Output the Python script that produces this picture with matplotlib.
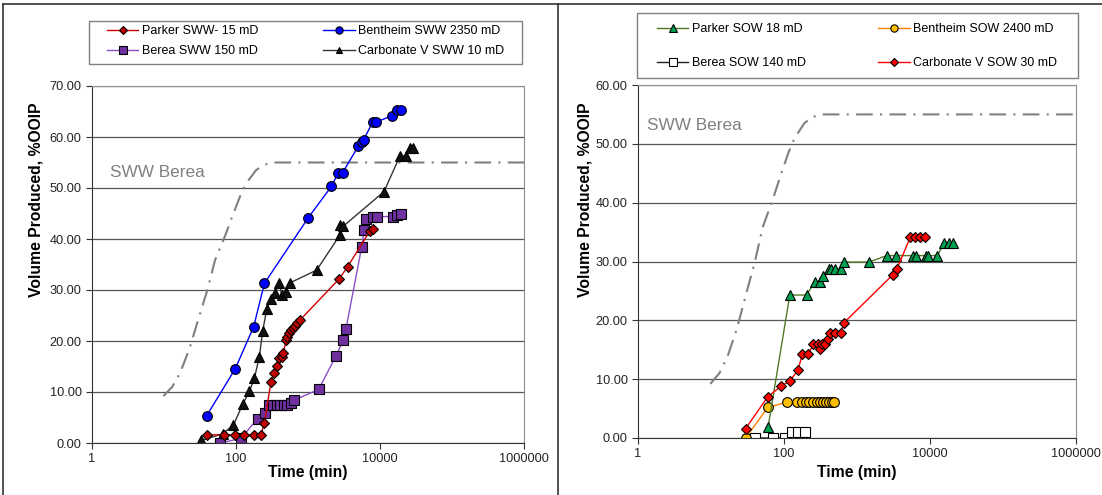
import matplotlib.pyplot as plt
from matplotlib.lines import Line2D
from matplotlib.patches import Rectangle
from matplotlib.ticker import NullLocator

plt.rcParams['font.family'] = ['Liberation Sans', 'DejaVu Sans']

# ---- left panel: SWW ----
parker_sww_t = [40, 68, 98, 128, 176, 222, 248, 306, 337, 367, 400, 431, 454, 495, 516,
                539, 575, 613, 659, 711, 774, 2720, 3560, 7260, 8070]
parker_sww_v = [1.6, 1.6, 1.6, 1.6, 1.6, 1.6, 3.9, 12.0, 13.7, 15.1, 16.7, 16.9, 17.7, 20.1, 20.8,
                21.6, 22.2, 22.5, 23.0, 23.5, 24.1, 32.2, 34.6, 41.6, 41.9]

bentheim_sww_t = [39, 98, 176, 248, 1012, 2110, 2630, 3020, 5000, 5570, 5940, 7910, 8790,
                  14800, 17400, 19400]
bentheim_sww_v = [5.3, 14.6, 22.8, 31.3, 44.2, 50.3, 53.0, 53.0, 58.2, 59.1, 59.5, 62.9, 62.9,
                  64.2, 65.2, 65.2]

berea_sww_t = [60, 117, 200, 255, 287, 323, 367, 408, 464, 516, 575, 640, 1406, 2450, 3100,
               3370, 5560, 6050, 6330, 7910, 9000, 15000, 17400, 19600]
berea_sww_v = [0.0, 0.9, 4.8, 5.8, 7.5, 7.5, 7.5, 7.5, 7.5, 7.5, 7.9, 8.4, 10.5, 17.1, 20.2,
               22.4, 38.4, 41.8, 43.9, 44.4, 44.4, 44.4, 44.8, 45.0]

carb_sww_t = [33, 65, 92, 124, 153, 180, 211, 235, 267, 303, 348, 400, 431, 495, 562, 1320,
              2780, 2780, 3090, 11370, 18950, 22960, 26100, 29000]
carb_sww_v = [0.5, 1.8, 3.5, 7.6, 10.1, 12.7, 16.9, 22.0, 26.2, 28.2, 29.5, 31.3, 29.0, 29.7,
              31.4, 33.9, 40.8, 42.7, 42.5, 49.3, 56.3, 56.3, 57.8, 57.8]

# reference curve "SWW Berea" (same on both panels)
ref_t = [9.8, 13, 16.7, 22.7, 30, 40, 51, 70, 92, 115, 140, 190, 240, 320, 1e6]
ref_v = [9.2, 11, 13.7, 18.6, 24.3, 30, 35.8, 40.5, 45, 48.5, 51, 53.5, 54.5, 55, 55]

# ---- right panel: SOW ----
parker_sow_t = [60.6, 120, 204, 262, 308, 345, 413, 436, 499, 598, 664, 1450, 2560, 3410,
                5780, 6420, 8810, 9300, 12500, 15700, 18400, 20900]
parker_sow_v = [1.9, 24.3, 24.3, 26.5, 26.5, 27.6, 28.7, 28.7, 28.7, 28.7, 29.9, 29.9, 31.0,
                31.0, 31.0, 31.0, 31.0, 31.0, 31.0, 33.1, 33.1, 33.1]

bentheim_sow_t = [29.8, 60, 111, 152, 174, 198, 222, 249, 280, 311, 346, 380, 413, 450, 490]
bentheim_sow_v = [0.0, 5.2, 6.1, 6.1, 6.1, 6.1, 6.1, 6.1, 6.1, 6.1, 6.1, 6.1, 6.1, 6.1, 6.1]

berea_sow_t = [40, 71, 102, 129, 157, 193]
berea_sow_v = [0.0, 0.0, 0.0, 1.0, 1.0, 1.0]

carb_sow_t = [29.8, 59.9, 91, 120, 155, 178, 215, 252, 292, 311, 335, 368, 400, 426, 494, 598,
              664, 3070, 3520, 5360, 6220, 7290, 8630]
carb_sow_v = [1.6, 7.0, 8.8, 9.7, 11.5, 14.2, 14.2, 16.0, 16.0, 15.1, 16.0, 16.0, 16.8, 17.9,
              17.9, 17.9, 19.6, 27.7, 28.7, 34.1, 34.1, 34.1, 34.1]

xticks = [1, 100, 10000, 1000000]
xlabels = ['1', '100', '10000', '1000000']

W, H = 1102, 495
def box(x0, y0, x1, y1):
    return [x0 / W, 1 - y1 / H, (x1 - x0) / W, (y1 - y0) / H]

fig = plt.figure(figsize=(11.02, 4.95), dpi=100)
ax1 = fig.add_axes(box(92, 86, 524, 443))
ax2 = fig.add_axes(box(638, 85, 1076, 438))

def style(ax, ymax):
    ax.set_xscale('log')
    ax.set_xlim(1, 1e6)
    ax.set_ylim(0, ymax)
    ax.set_xticks(xticks, xlabels)
    ax.xaxis.set_minor_locator(NullLocator())
    yt = list(range(0, ymax + 1, 10))
    ax.set_yticks(yt, [f'{v:.2f}' for v in yt])
    ax.grid(axis='y', color='#555555', lw=0.9)
    ax.set_axisbelow(True)
    for s in ['top', 'right']:
        ax.spines[s].set_color('#909090')
    for s in ['left', 'bottom']:
        ax.spines[s].set_color('#333333')
    ax.tick_params(labelsize=9.2, length=4, color='#333333', labelcolor='#222222')

style(ax1, 70)
style(ax2, 60)

dash = (0, (8, 3.5, 1, 3.5))
ax1.plot(ref_t, ref_v, color='#808080', lw=1.5, ls=dash)
ax2.plot(ref_t, ref_v, color='#808080', lw=1.5, ls=dash)
ax1.text(1.78, 53.1, 'SWW Berea', fontsize=12.4, color='#808080', va='center')
ax2.text(1.33, 53.2, 'SWW Berea', fontsize=12.4, color='#808080', va='center')

kw = dict(lw=1.0, mec='black', mew=0.8)
h_carb, = ax1.plot(carb_sww_t, carb_sww_v, color='#333333', marker='^', ms=6.5, mfc='#111111',
                   label='Carbonate V SWW 10 mD', **kw)
h_berea, = ax1.plot(berea_sww_t, berea_sww_v, color='#8A4FC8', marker='s', ms=7, mfc='#7030A0',
                    label='Berea SWW 150 mD', **kw)
h_park, = ax1.plot(parker_sww_t, parker_sww_v, color='#D00000', marker='D', ms=5.2, mfc='#C00000',
                   label='Parker SWW- 15 mD', **kw)
h_bent, = ax1.plot(bentheim_sww_t, bentheim_sww_v, color='#0000FF', marker='o', ms=7, mfc='#0000FF',
                   label='Bentheim SWW 2350 mD', **kw)

g_berea, = ax2.plot(berea_sow_t, berea_sow_v, color='#222222', marker='s', ms=7, mfc='white',
                    label='Berea SOW 140 mD', **kw)
g_bent, = ax2.plot(bentheim_sow_t, bentheim_sow_v, color='#FF8000', marker='o', ms=7, mfc='#FFC000',
                   label='Bentheim SOW 2400 mD', **kw)
g_park, = ax2.plot(parker_sow_t, parker_sow_v, color='#4F7A28', marker='^', ms=7, mfc='#00A050',
                   label='Parker SOW 18 mD', **kw)
g_carb, = ax2.plot(carb_sow_t, carb_sow_v, color='#FF0000', marker='D', ms=5.2, mfc='#FF0000',
                   label='Carbonate V SOW 30 mD', **kw)

ax1.legend(handles=[h_park, h_berea, h_bent, h_carb], loc='upper left',
           bbox_to_anchor=(107 / W, 1 - 25 / H), bbox_transform=fig.transFigure, ncol=2,
           frameon=False, fontsize=9, handlelength=2.5, handletextpad=0.3, columnspacing=5.2,
           labelspacing=0.65, borderpad=0, borderaxespad=0, markerscale=0.75)
ax2.legend(handles=[g_park, g_berea, g_bent, g_carb], loc='upper left',
           bbox_to_anchor=(657 / W, 1 - 23 / H), bbox_transform=fig.transFigure, ncol=2,
           frameon=False, fontsize=9, handlelength=2.5, handletextpad=0.3, columnspacing=5.8,
           labelspacing=1.8, borderpad=0, borderaxespad=0, markerscale=0.75)

fig.add_artist(Rectangle((89 / W, 1 - 64 / H), 433 / W, 43 / H, transform=fig.transFigure,
                         fill=False, ec='#808080', lw=1))
fig.add_artist(Rectangle((637 / W, 1 - 78 / H), 441 / W, 65 / H, transform=fig.transFigure,
                         fill=False, ec='#808080', lw=1))

# panel borders
fig.add_artist(Line2D([3 / W, 3 / W], [0, 1 - 4 / H], color='#333333', lw=1.2))
fig.add_artist(Line2D([3 / W, 1], [1 - 4 / H, 1 - 4 / H], color='#333333', lw=1.2))
fig.add_artist(Line2D([558 / W, 558 / W], [0, 1 - 4 / H], color='#333333', lw=1.2))

for x in [36, 585]:
    fig.text(x / W, 1 - 200 / H, 'Volume Produced, %OOIP', rotation=90, ha='center', va='center',
             fontsize=11.3, fontweight='bold')
for x in [308, 857]:
    fig.text(x / W, 1 - 473 / H, 'Time (min)', ha='center', va='center', fontsize=11.3,
             fontweight='bold')

fig.savefig('out.png', dpi=100)
